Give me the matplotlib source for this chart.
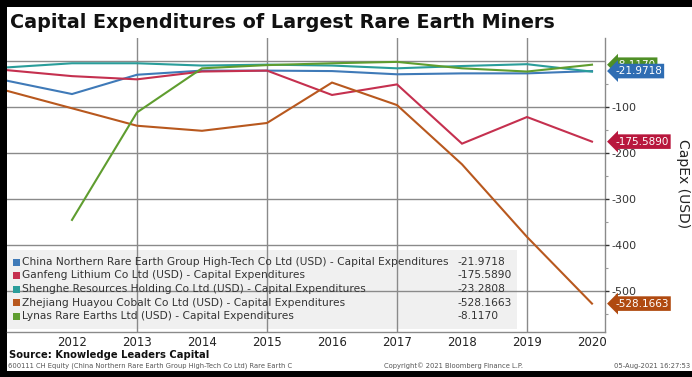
import matplotlib
matplotlib.use("Agg")
import matplotlib.pyplot as plt
import matplotlib.transforms as mtransforms
from matplotlib.patches import Rectangle
import numpy as np

years = [2011, 2012, 2013, 2014, 2015, 2016, 2017, 2018, 2019, 2020]
china_northern = [-43, -72, -30, -21, -21, -22, -29, -27, -27, -21.9718]
ganfeng = [-20, -33, -40, -23, -21, -74, -51, -180, -122, -175.5890]
shenghe = [-14, -5, -5, -10, -8, -10, -16, -11, -7, -23.2808]
huayou = [-65, -103, -141, -152, -135, -47, -96, -225, -383, -528.1663]
lynas = [np.nan, -346, -112, -16, -9, -5, -2, -16, -23, -8.1170]

series_names = [
    "China Northern Rare Earth Group High-Tech Co Ltd (USD) - Capital Expenditures",
    "Ganfeng Lithium Co Ltd (USD) - Capital Expenditures",
    "Shenghe Resources Holding Co Ltd (USD) - Capital Expenditures",
    "Zhejiang Huayou Cobalt Co Ltd (USD) - Capital Expenditures",
    "Lynas Rare Earths Ltd (USD) - Capital Expenditures",
]
last_values = ["-21.9718", "-175.5890", "-23.2808", "-528.1663", "-8.1170"]
series = [china_northern, ganfeng, shenghe, huayou, lynas]
line_colors = ["#3f7ab8", "#c5304f", "#2a9d9a", "#b8581e", "#5f9d2f"]
tag_colors = ["#2f6db3", "#b8173d", "#2a9d9a", "#b04a10", "#4f8f26"]

xtick_years = [2012, 2013, 2014, 2015, 2016, 2017, 2018, 2019, 2020]
ytick_vals = [-100, -200, -300, -400, -500]

W, H = 692, 377
fig = plt.figure(figsize=(W / 100, H / 100), dpi=100)
fig.patch.set_facecolor("black")
bg = Rectangle((7 / W, 1 - 371 / H), 1, (371 - 7) / H,
               transform=fig.transFigure, facecolor="white",
               edgecolor="none", zorder=-10)
fig.patches.append(bg)

ax_l, ax_r, ax_t, ax_b = 7, 605, 38, 332
ax = fig.add_axes([ax_l / W, 1 - ax_b / H, (ax_r - ax_l) / W, (ax_b - ax_t) / H])
ax.set_facecolor("white")
ax.set_xlim(2011, 2020.2)
ax.set_ylim(-590, 50)

ax.set_axisbelow(False)
for y in [0, -100, -200, -300, -400, -500]:
    ax.axhline(y, color="#8a8a8a", lw=1.0, zorder=2.5)
for x in [2013, 2015, 2017, 2019]:
    ax.axvline(x, color="#8a8a8a", lw=1.0, zorder=2.5)

for vals, c in zip(series, line_colors):
    ax.plot(years, vals, color=c, lw=1.5, zorder=3, solid_joinstyle="miter")

for s in ["top", "left"]:
    ax.spines[s].set_visible(False)
for s in ["right", "bottom"]:
    ax.spines[s].set_color("#8a8a8a")
    ax.spines[s].set_linewidth(1.0)

ax.yaxis.tick_right()
ax.yaxis.set_label_position("right")
ax.set_yticks(ytick_vals)
ax.set_yticklabels([str(v) for v in ytick_vals])
ax.set_yticks([-50, -150, -250, -350, -450, -550], minor=True)
ax.tick_params(axis="y", which="major", length=3, width=1, color="#333333",
               labelsize=8, labelcolor="#333333", pad=2)
ax.tick_params(axis="y", which="minor", length=2, width=0.8, color="#999999")
ax.set_xticks(xtick_years)
ax.set_xticklabels([str(y) for y in xtick_years])
ax.tick_params(axis="x", length=0, labelsize=8.5, labelcolor="#222222", pad=3)
ax.set_ylabel("CapEx (USD)", rotation=270, fontsize=10, color="#222222",
              va="center", ha="center")
ax.yaxis.set_label_coords((683 - 7) / 598, (ax_b - 184) / (ax_b - ax_t))

# legend box
ax.add_patch(Rectangle((0, 0.01), (517 - 7) / 598, 0.27, transform=ax.transAxes,
                       facecolor="#f0f0f0", edgecolor="none", zorder=1.5))
row_px = [262, 275.5, 289, 302.5, 316]
for name, val, c, ypx in zip(series_names, last_values, line_colors, row_px):
    yf = (ax_b - ypx) / (ax_b - ax_t)
    ax.add_patch(Rectangle((6 / 598, yf - 0.012), 7 / 598, 7 / 294,
                           transform=ax.transAxes, facecolor=c, edgecolor="none", zorder=4))
    ax.text(14.5 / 598, yf, name, transform=ax.transAxes, fontsize=7.7,
            color="#333333", va="center", ha="left", zorder=4)
    ax.text((457 - 7) / 598, yf, val, transform=ax.transAxes, fontsize=7.7,
            color="#333333", va="center", ha="left", zorder=4)

# value tags
trans = mtransforms.blended_transform_factory(ax.transAxes, ax.transData)
tag_order = [4, 0, 1, 3]
for i in tag_order:
    v = series[i][-1]
    ax.text(1 + 10 / 598, v, last_values[i], transform=trans, fontsize=7.5,
            color="white", va="center", ha="left", zorder=10, clip_on=False,
            bbox=dict(boxstyle="larrow,pad=0.22", facecolor=tag_colors[i],
                      edgecolor="none"))

fig.text(10 / W, 1 - 22 / H, "Capital Expenditures of Largest Rare Earth Miners",
         fontsize=13.8, fontweight="bold", color="#111111", va="center", ha="left")
fig.text(9 / W, 1 - 355 / H, "Source: Knowledge Leaders Capital",
         fontsize=7.2, fontweight="bold", color="#111111", va="center", ha="left")
fig.text(8 / W, 1 - 366 / H,
         "600111 CH Equity (China Northern Rare Earth Group High-Tech Co Ltd) Rare Earth C",
         fontsize=4.9, color="#555555", va="center", ha="left")
fig.text(384 / W, 1 - 366 / H, "Copyright\u00a9 2021 Bloomberg Finance L.P.",
         fontsize=4.9, color="#555555", va="center", ha="left")
fig.text(690 / W, 1 - 366 / H, "05-Aug-2021 16:27:53",
         fontsize=4.9, color="#555555", va="center", ha="right")

fig.savefig("out.png", dpi=100, facecolor=fig.get_facecolor())
